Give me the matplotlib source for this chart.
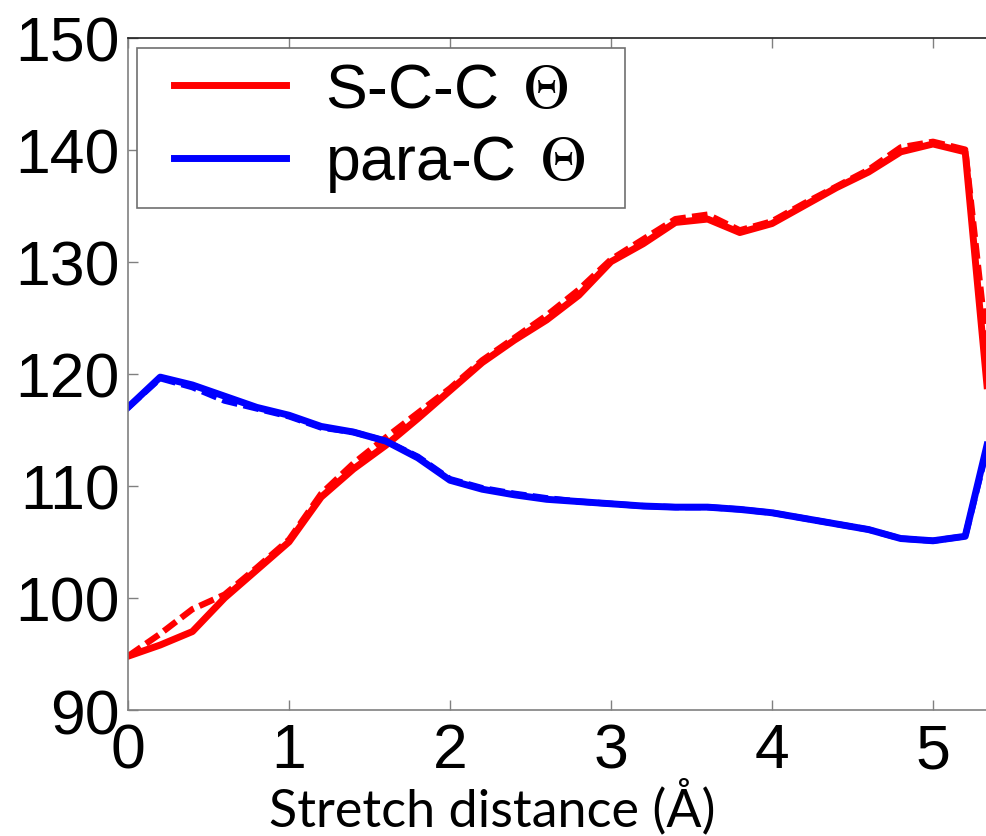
import matplotlib
matplotlib.use("Agg")
import matplotlib.pyplot as plt
from matplotlib.lines import Line2D
from matplotlib.legend_handler import HandlerLine2D

plt.rcParams['mathtext.fontset'] = 'stix'

# stretch distance (A)
stretch = [0.0, 0.2, 0.4, 0.6, 0.8, 1.0, 1.2, 1.4, 1.6, 1.8, 2.0, 2.2, 2.4, 2.6,
           2.8, 3.0, 3.2, 3.4, 3.6, 3.8, 4.0, 4.2, 4.4, 4.6, 4.8, 5.0, 5.2, 5.4]

# S-C-C angle, solid and dashed runs
scc = [94.8, 95.8, 97.0, 100.0, 102.5, 105.0, 109.0, 111.5, 113.6, 116.0, 118.5, 121.0,
       123.0, 124.8, 127.0, 130.0, 131.6, 133.5, 133.8, 132.6, 133.4, 135.0, 136.6, 138.0,
       139.8, 140.5, 139.8, 109.0]
scc_dash = [94.8, 96.8, 99.0, 100.3, 102.7, 105.2, 109.3, 112.0, 114.3, 116.5, 118.7, 121.2,
            123.2, 125.2, 127.5, 130.2, 132.0, 133.8, 134.2, 132.8, 133.6, 135.2, 136.7, 138.2,
            140.2, 140.7, 140.0, 114.0]

# para-C angle, solid and dashed runs
parac = [117.0, 119.7, 119.0, 118.0, 117.0, 116.3, 115.3, 114.8, 114.0, 112.5, 110.5, 109.7,
         109.2, 108.8, 108.6, 108.4, 108.2, 108.1, 108.1, 107.9, 107.6, 107.1, 106.6, 106.1,
         105.3, 105.1, 105.5, 117.5]
parac_dash = [117.0, 119.6, 118.8, 117.6, 116.9, 116.2, 115.2, 114.8, 114.0, 112.6, 110.6, 109.8,
              109.3, 108.9, 108.6, 108.4, 108.2, 108.1, 108.1, 107.9, 107.6, 107.1, 106.6, 106.1,
              105.3, 105.1, 105.5, 117.0]

xticks = [0, 1, 2, 3, 4, 5]
yticks = [90, 100, 110, 120, 130, 140, 150]

fig = plt.figure(figsize=(9.87, 8.37), dpi=100)
ax = fig.add_axes([0.1297, 0.1505, 0.9787, 0.8035])

ax.plot(stretch, scc_dash, color="#ff0000", lw=4.5, ls=(0, (2.5, 1)))
ax.plot(stretch, parac_dash, color="#0000ff", lw=4.5, ls=(0, (2.5, 1)))
ax.plot(stretch, scc, color="#ff0000", lw=5, label="S-C-C $\\,\\Theta$")
ax.plot(stretch, parac, color="#0000ff", lw=5, label="para-C $\\,\\Theta$")

ax.set_xlim(0, 6)
ax.set_ylim(90, 150)
ax.set_xticks(xticks)
ax.set_yticks(yticks)

ax.tick_params(direction="in", length=7, width=1, color="#808080",
               top=True, right=True, labelsize=45)
ax.tick_params(axis="x", pad=8)
ax.tick_params(axis="y", pad=6)
for lab in ax.get_xticklabels() + ax.get_yticklabels():
    lab.set_family("Liberation Sans")
for side in ["left", "bottom"]:
    ax.spines[side].set_color("#808080")
ax.spines["top"].set_color("#202020")
for s in ax.spines.values():
    s.set_linewidth(1.2)

# legend: handles sit further in from the frame than the text padding,
# frame stretched to the reference width
leg = ax.legend(loc="upper left", bbox_to_anchor=(0.0093, 0.5, 0.505, 0.485),
                mode="expand", borderaxespad=0,
                prop={"family": "Liberation Sans", "size": 45},
                handlelength=2.17, handletextpad=0.63, labelspacing=0.22,
                borderpad=0.21, fancybox=False, framealpha=1,
                handler_map={Line2D: HandlerLine2D(xpad=0.38)})
leg.get_frame().set_edgecolor("#707070")
leg.get_frame().set_linewidth(1.2)

fig.text(0.4985, 0.036, "Stretch distance (\u00c5)", family="Lato", fontsize=37.5,
         ha="center", va="center")

fig.savefig("out.png", dpi=100)
